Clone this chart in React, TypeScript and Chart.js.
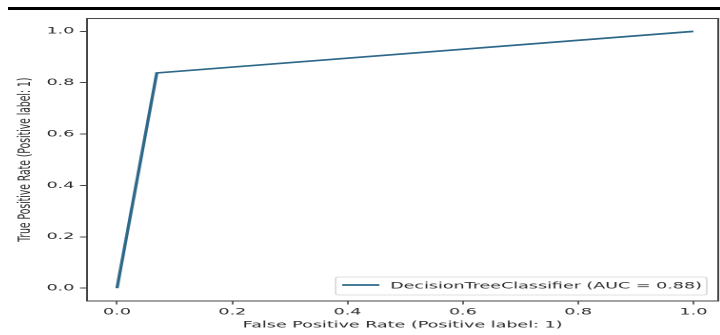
import React, { useEffect, useRef } from "react";
import { Chart, registerables } from "chart.js";

Chart.register(...registerables);

// ---- data ----
const fpr = [0, 0.069, 1];
const tpr = [0, 0.838, 1];
const seriesLabel = "DecisionTreeClassifier (AUC = 0.88)";
const tickValues = [0, 0.2, 0.4, 0.6, 0.8, 1.0];
const tickLabels = ["0.0", "0.2", "0.4", "0.6", "0.8", "1.0"];
const xTitle = "False Positive Rate (Positive label: 1)";
const yTitle = "True Positive Rate (Positive label: 1)";

// ---- style ----
const SX = 1.904; // horizontal stretch of the reference picture
const FONT = "'DejaVu Sans', sans-serif";
const FS = 9.2;
const LINE_COLOR = "#2d6889";
const AXIS_COLOR = "#444444";
const TEXT_COLOR = "#2a2a2a";

const framePlugin = {
  id: "frame",
  afterDatasetsDraw(chart: any) {
    const { ctx, chartArea: a } = chart;
    ctx.save();
    ctx.strokeStyle = AXIS_COLOR;
    ctx.lineWidth = 1;
    ctx.strokeRect(a.left, a.top, a.right - a.left, a.bottom - a.top);
    ctx.restore();
  },
};

const legendPlugin = {
  id: "insideLegend",
  afterDraw(chart: any) {
    const { ctx, chartArea: a } = chart;
    const ds = chart.data.datasets[0];
    ctx.save();
    ctx.font = `${FS}px ${FONT}`;
    const tw = ctx.measureText(ds.label).width;
    const boxRight = a.right - 6;
    const boxBottom = a.bottom - 6;
    const boxTop = boxBottom - 18;
    const textRight = boxRight - 2.6;
    const textLeft = textRight - tw;
    const lineRight = textLeft - 5.7;
    const lineLeft = lineRight - 19.5;
    const boxLeft = lineLeft - 3.4;
    const cy = (boxTop + boxBottom) / 2;
    ctx.beginPath();
    if ((ctx as any).roundRect) {
      (ctx as any).roundRect(boxLeft, boxTop, boxRight - boxLeft, boxBottom - boxTop, 1.5);
    } else {
      ctx.rect(boxLeft, boxTop, boxRight - boxLeft, boxBottom - boxTop);
    }
    ctx.fillStyle = "rgba(255,255,255,0.85)";
    ctx.fill();
    ctx.strokeStyle = "#d6d6d6";
    ctx.lineWidth = 0.8;
    ctx.stroke();
    ctx.beginPath();
    ctx.moveTo(lineLeft, cy - 1);
    ctx.lineTo(lineRight, cy - 1);
    ctx.strokeStyle = ds.borderColor;
    ctx.lineWidth = 1.7;
    ctx.stroke();
    ctx.fillStyle = TEXT_COLOR;
    ctx.textBaseline = "middle";
    ctx.textAlign = "left";
    ctx.fillText(ds.label, textLeft, cy);
    ctx.restore();
  },
};

function ChartBox() {
  const ref = useRef<HTMLCanvasElement | null>(null);
  useEffect(() => {
    if (!ref.current) return;
    const points = fpr.map((x, i) => ({ x, y: tpr[i] }));
    const fixTicks = (scale: any) => {
      scale.ticks = tickValues.map((v) => ({ value: v }));
    };
    const fmt = (v: any) => {
      const i = tickValues.findIndex((t) => Math.abs(t - Number(v)) < 1e-9);
      return i >= 0 ? tickLabels[i] : "";
    };
    const chart = new Chart(ref.current, {
      type: "line",
      data: {
        datasets: [
          {
            label: seriesLabel,
            data: points,
            borderColor: LINE_COLOR,
            backgroundColor: LINE_COLOR,
            borderWidth: 1.7,
            pointRadius: 0,
            tension: 0,
            fill: false,
          },
        ],
      },
      options: {
        animation: false,
        responsive: true,
        maintainAspectRatio: false,
        devicePixelRatio: 2,
        layout: { padding: { top: 7, right: 1, left: 0, bottom: 0 } },
        plugins: {
          legend: { display: false },
          tooltip: { enabled: false },
        },
        scales: {
          x: {
            type: "linear",
            min: -0.052,
            max: 1.043,
            afterBuildTicks: fixTicks,
            afterFit: (s: any) => {
              s.height = 34;
            },
            border: { display: false },
            grid: {
              drawOnChartArea: false,
              drawTicks: true,
              tickLength: 3.5,
              tickColor: AXIS_COLOR,
              tickWidth: 0.8,
            },
            ticks: {
              callback: fmt,
              padding: 2,
              color: TEXT_COLOR,
              font: { family: FONT, size: FS },
              maxRotation: 0,
              autoSkip: false,
            },
            title: {
              display: true,
              text: xTitle,
              color: TEXT_COLOR,
              font: { family: FONT, size: FS },
              padding: { top: 0, bottom: 4.5 },
            },
          },
          y: {
            type: "linear",
            min: -0.05,
            max: 1.05,
            afterBuildTicks: fixTicks,
            afterFit: (s: any) => {
              s.width = 41.5;
            },
            border: { display: false },
            grid: {
              drawOnChartArea: false,
              drawTicks: true,
              tickLength: 3.7,
              tickColor: AXIS_COLOR,
              tickWidth: 1,
            },
            ticks: {
              callback: fmt,
              padding: 3,
              color: TEXT_COLOR,
              font: { family: FONT, size: FS },
              autoSkip: false,
            },
            title: {
              display: true,
              text: yTitle,
              color: TEXT_COLOR,
              font: { family: FONT, size: FS },
              padding: { top: 3.4, bottom: 0 },
            },
          },
        },
      },
      plugins: [framePlugin, legendPlugin],
    } as any);
    return () => chart.destroy();
  }, []);
  return <canvas ref={ref} />;
}

export default function App() {
  return (
    <div
      style={{
        position: "fixed",
        left: 0,
        top: 0,
        width: 720,
        height: 335,
        background: "#fff",
        overflow: "hidden",
      }}
    >
      <div
        style={{
          position: "absolute",
          left: 8,
          top: 7,
          width: 712,
          height: 3,
          background: "#000",
        }}
      />
      <div
        style={{
          position: "absolute",
          left: 8,
          top: 10,
          width: 374,
          height: 325,
          transform: `scaleX(${SX})`,
          transformOrigin: "0 0",
        }}
      >
        <ChartBox />
      </div>
    </div>
  );
}
